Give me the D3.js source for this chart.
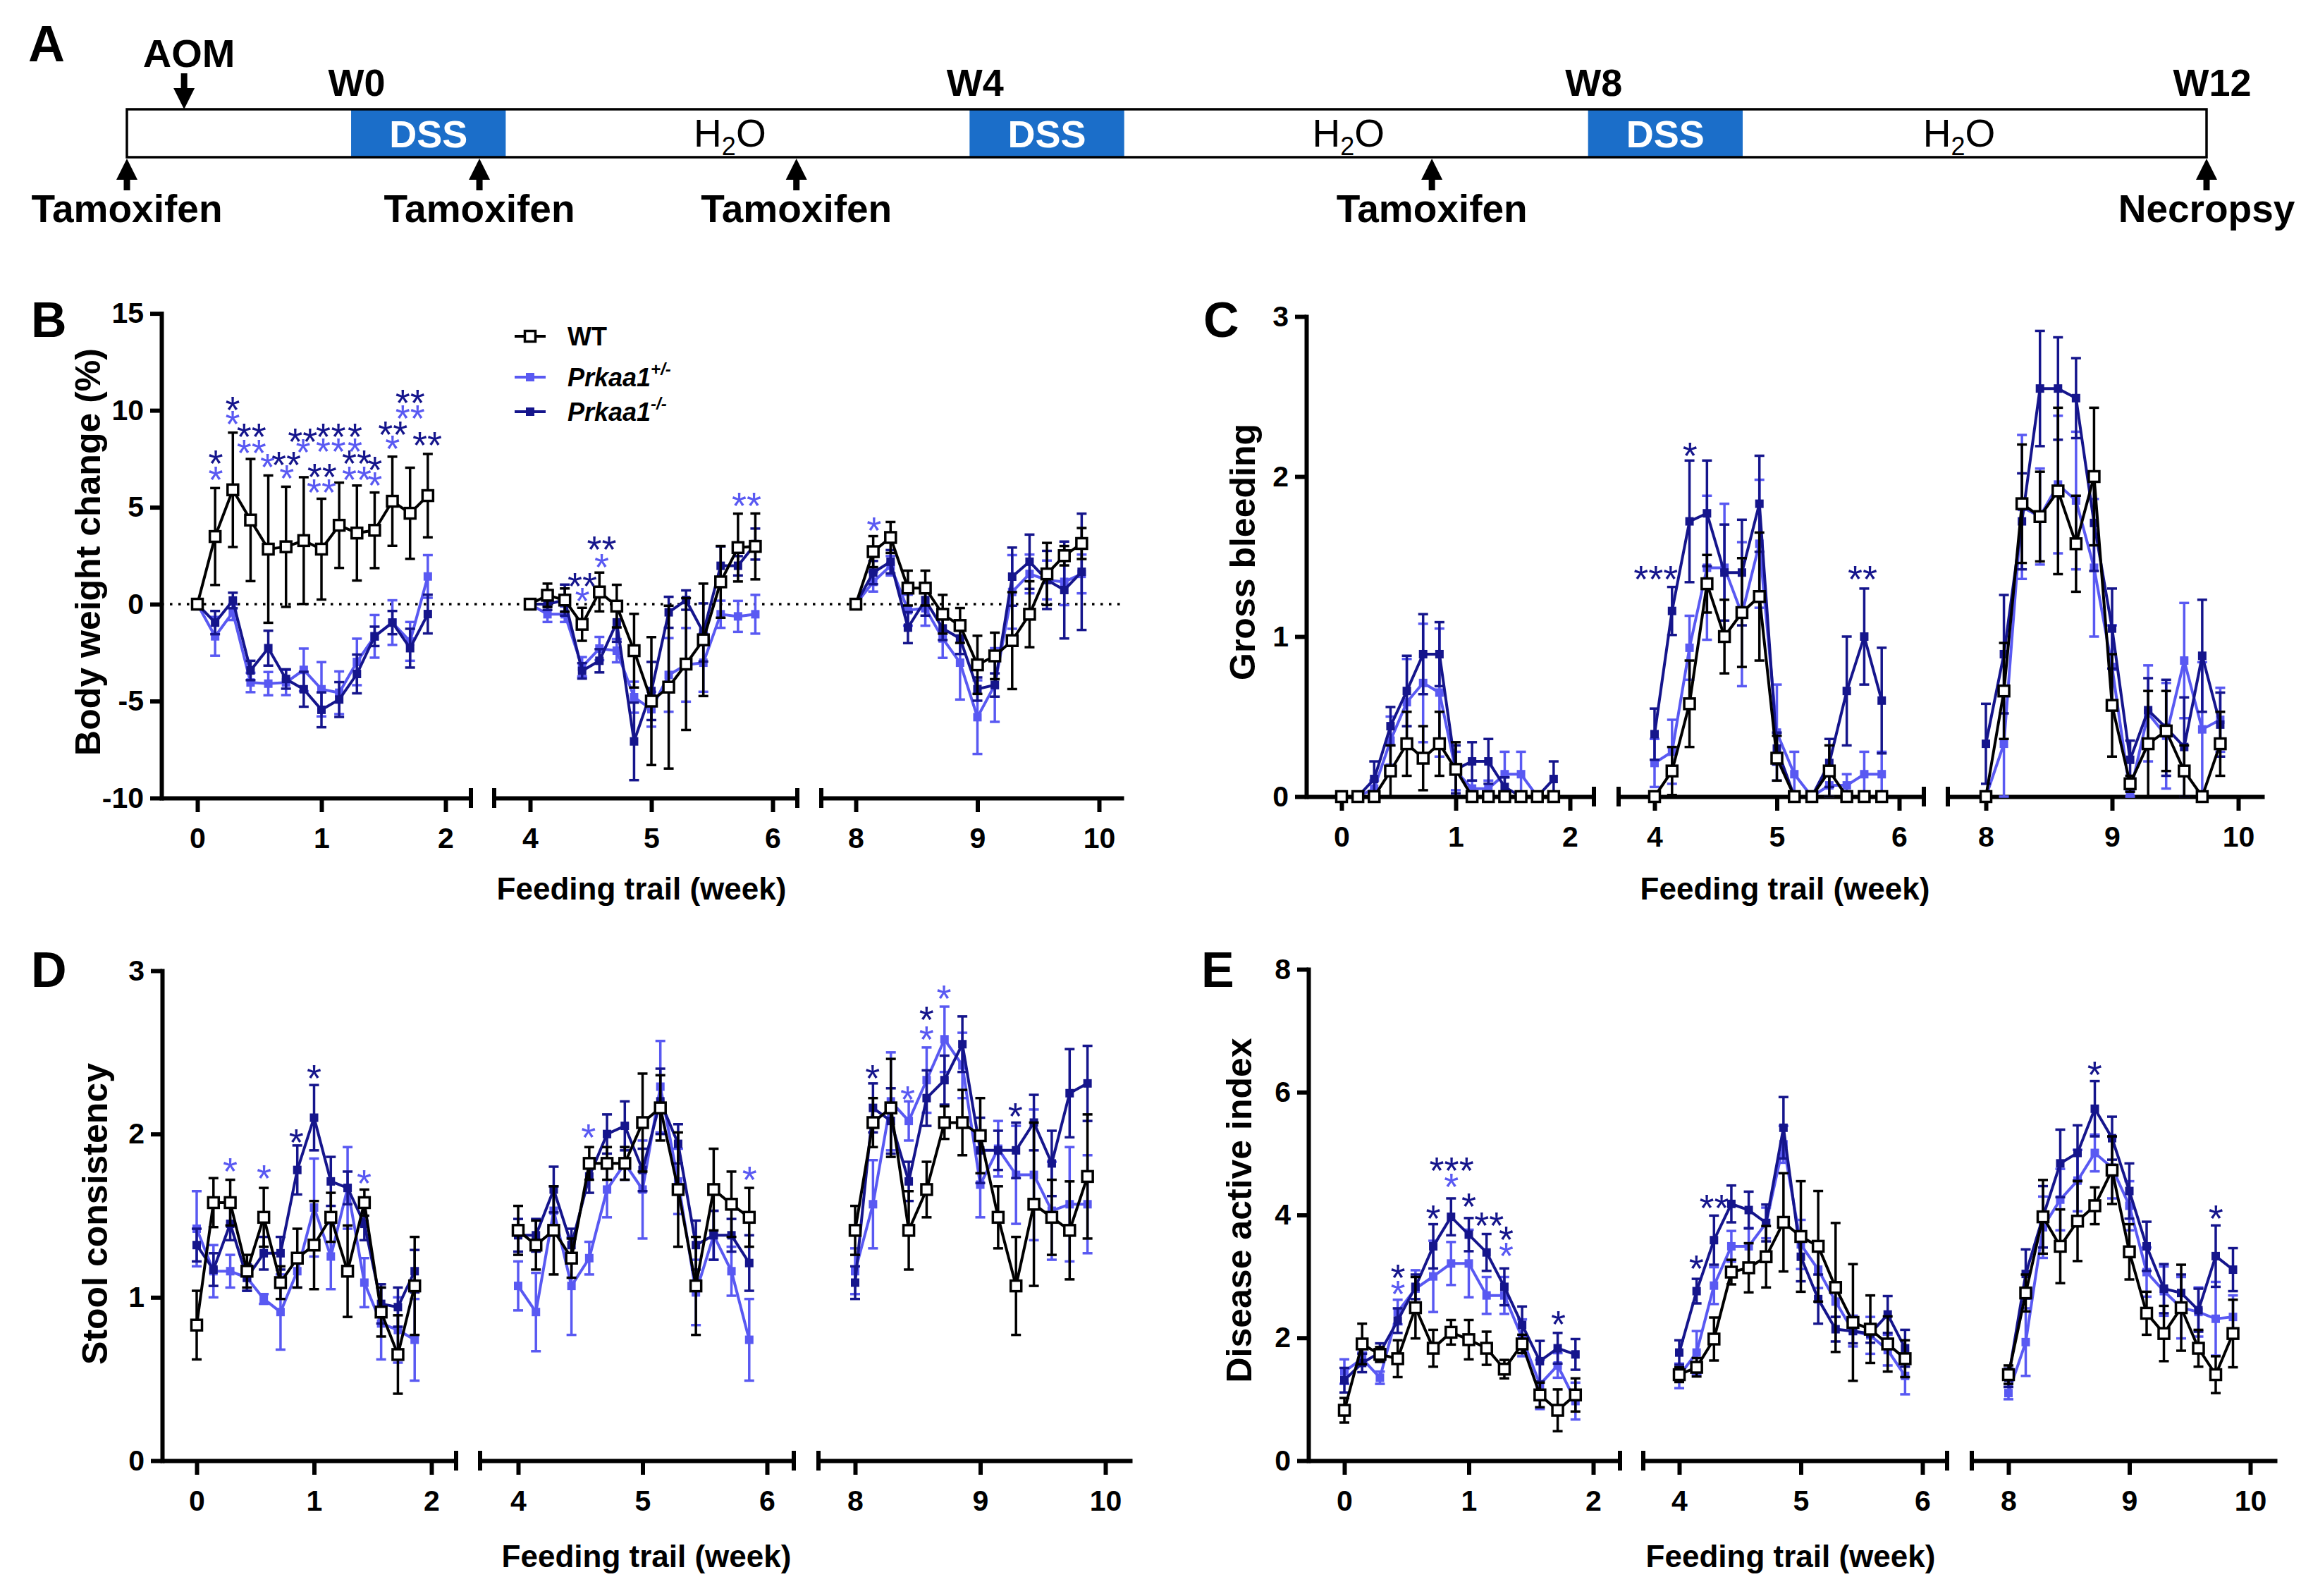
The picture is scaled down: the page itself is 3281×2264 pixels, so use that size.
<!DOCTYPE html>
<html><head><meta charset="utf-8">
<script src="https://cdn.jsdelivr.net/npm/d3@7"></script>
<style>
body{margin:0;background:#fff}
svg{display:block}
</style>
</head><body>
<svg id="fig" width="3281" height="2264"></svg>
<script>
// ---------------- DATA ----------------
const segStarts = [0, 4, 8];
const xTickLabels = [[0,1,2],[4,5,6],[8,9,10]];
const seriesNames = ["WT", "Prkaa1", "Prkaa1"];
const seriesSup = ["", "+/-", "-/-"];

// Timeline (panel A), in weeks
const dssWeeks = [0, 4, 8];
const h2oWeeks = [2.45, 6.45, 10.4];
const weekMarks = [0, 4, 8, 12];
const weekMarkLabels = ["W0", "W4", "W8", "W12"];
const tamoxifenWeeks = [-1.45, 0.83, 2.88, 6.99];
const aomWeek = -1.08;
const necropsyWeek = 12;

// Panel B: body weight change (%)
const bwWT = [0,3.49,5.9,4.34,2.84,2.96,3.28,2.84,4.07,3.67,3.81,5.31,4.69,5.6,
  0,0.46,0.21,-1.04,0.63,-0.1,-2.4,-5.0,-4.28,-3.09,-1.84,1.15,2.92,2.98,
  0,2.71,3.44,0.83,0.83,-0.52,-1.1,-3.13,-2.67,-1.88,-0.52,1.56,2.5,3.13];
const bwWTerr = [0,2.5,2.95,3.15,3.8,3.1,3.27,2.6,2.2,2.45,1.95,2.3,2.35,2.15,
  0,0.6,0.6,0.85,1.0,1.1,1.9,3.3,4.2,3.4,2.9,1.85,1.75,1.7,
  0,0.8,0.8,0.9,0.9,1.0,0.9,1.5,1.2,2.5,1.7,1.6,0.5,0.8];
const bwHet = [0,-1.66,-0.42,-4.04,-4.1,-4.04,-3.39,-4.39,-4.57,-2.98,-1.66,-0.95,-1.92,1.43,
  0,-0.52,-0.52,-3.23,-2.29,-2.4,-4.8,-5.42,-3.65,-3.13,-3.02,-0.52,-0.63,-0.52,
  0,1.15,1.98,-0.31,-0.21,-1.77,-3.02,-5.83,-4.17,0.63,1.56,1.25,1.15,1.56];
const bwHetErr = [0,1.0,0.4,0.5,0.6,0.65,1.1,1.4,1.1,1.2,1.1,1.15,1.0,1.1,
  0,0.4,0.4,0.5,0.6,0.6,0.8,0.9,1.9,1.9,1.5,0.7,0.8,1.0,
  0,0.5,0.5,0.8,0.9,1.0,1.9,1.9,1.9,1.9,1.0,1.0,1.2,1.0];
const bwKO = [0,-0.95,0.19,-3.42,-2.27,-3.86,-4.39,-5.45,-4.92,-3.6,-1.66,-0.95,-2.27,-0.51,
  0,0,0.21,-3.44,-2.92,-0.94,-7.08,-4.48,-0.42,0.21,-1.46,1.98,1.98,3.1,
  0,1.63,2.19,-1.21,0.21,-1.25,-1.77,-4.38,-4.17,1.42,2.19,1.25,0.73,1.67];
const bwKOerr = [0,0.6,0.4,0.5,0.9,0.5,0.9,0.9,0.9,1.0,0.5,0.6,1.0,1.0,
  0,0.3,0.8,0.4,0.6,1.0,2.0,1.5,0.8,0.5,1.5,1.0,0.5,0.8,
  0,0.6,0.6,0.8,0.8,0.6,0.8,0.6,0.6,1.5,1.4,1.5,2.5,3.0];
const bwStars = [[0.148,7.68,"ko","*"],[0.148,6.85,"het","*"],[0.284,10.43,"ko","*"],[0.284,9.70,"het","*"],
  [0.436,9.04,"ko","**"],[0.436,8.21,"het","**"],[0.565,7.48,"het","*"],[0.716,7.61,"ko","**"],[0.72,6.92,"het","*"],
  [0.848,8.82,"ko","**"],[0.853,8.25,"het","*"],[1.005,7.0,"ko","**"],[1.0,6.19,"het","**"],
  [1.014,9.04,"ko","*"],[1.014,8.31,"het","*"],[1.137,9.04,"ko","*"],[1.137,8.31,"het","*"],
  [1.27,9.04,"ko","*"],[1.27,8.31,"het","*"],[1.284,7.68,"ko","**"],[1.284,6.85,"het","**"],
  [1.431,7.36,"ko","*"],[1.431,6.55,"het","*"],[1.575,9.18,"ko","**"],[1.573,8.45,"het","*"],
  [1.715,10.79,"ko","**"],[1.715,10.0,"het","**"],[1.852,8.61,"ko","**"],
  [4.43,1.35,"ko","**"],[4.43,0.58,"het","*"],[4.59,3.23,"ko","**"],[4.59,2.33,"het","*"],[5.785,5.48,"het","**"],
  [8.15,4.23,"het","*"]];

// Panel C: gross bleeding
const gbWT = [0,0,0,0.16,0.33,0.24,0.33,0.17,0,0,0,0,0,0,
  0,0.16,0.58,1.33,1.0,1.15,1.25,0.24,0,0,0.16,0,0,0,
  0,0.66,1.83,1.75,1.91,1.58,2.0,0.57,0.08,0.33,0.41,0.16,0,0.33];
const gbWTerr = [0,0,0,0.16,0.2,0.2,0.2,0.17,0,0,0,0,0,0,
  0,0.15,0.27,0.18,0.23,0.34,0.4,0.14,0,0,0.16,0,0,0,
  0,0.3,0.37,0.28,0.52,0.3,0.43,0.32,0.05,0.33,0.25,0.16,0,0.2];
const gbHet = [0,0,0.05,0.35,0.59,0.71,0.65,0.16,0.05,0.05,0.14,0.14,0,0,
  0.21,0.28,0.93,1.43,1.43,1.14,1.58,0.4,0.14,0,0.07,0.07,0.14,0.14,
  0,0.33,1.81,1.75,1.95,1.85,1.43,0.81,0.02,0.52,0.38,0.85,0.42,0.48];
const gbHetErr = [0,0,0.05,0.15,0.27,0.37,0.4,0.12,0.05,0.05,0.14,0.14,0,0,
  0.15,0.2,0.2,0.45,0.4,0.45,0.4,0.3,0.14,0,0.07,0.07,0.14,0.14,
  0,0.33,0.45,0.3,0.43,0.43,0.43,0.26,0.02,0.3,0.33,0.36,0.42,0.2];
const gbKO = [0,0,0.11,0.44,0.66,0.89,0.89,0.17,0.22,0.22,0.06,0,0,0.11,
  0.39,1.16,1.72,1.77,1.4,1.4,1.83,0.3,0,0,0.21,0.66,1.0,0.6,
  0.33,0.89,1.72,2.55,2.55,2.49,1.71,1.05,0.23,0.54,0.43,0.31,0.88,0.45];
const gbKOerr = [0,0,0.11,0.12,0.22,0.25,0.2,0.15,0.12,0.14,0.06,0,0,0.11,
  0.16,0.15,0.38,0.33,0.3,0.33,0.3,0.1,0,0,0.15,0.34,0.3,0.33,
  0.25,0.37,0.3,0.36,0.32,0.25,0.3,0.25,0.12,0.2,0.3,0.31,0.35,0.2];
const gbStars = [[4.01,1.41,"ko","***"],[4.29,2.18,"ko","*"],[5.70,1.41,"ko","**"]];

// Panel D: stool consistency
const scWT = [0.83,1.58,1.58,1.16,1.49,1.09,1.24,1.32,1.49,1.16,1.58,0.91,0.65,1.07,
  1.41,1.32,1.41,1.24,1.82,1.82,1.82,2.07,2.16,1.66,1.07,1.66,1.57,1.49,
  1.41,2.07,2.16,1.41,1.66,2.07,2.07,1.99,1.49,1.07,1.57,1.49,1.41,1.74];
const scWTerr = [0.21,0.15,0.14,0.1,0.18,0.1,0.18,0.27,0.15,0.28,0.08,0.15,0.24,0.3,
  0.15,0.15,0.27,0.12,0.1,0.1,0.1,0.3,0.2,0.35,0.3,0.25,0.2,0.18,
  0.15,0.15,0.3,0.24,0.17,0.1,0.2,0.23,0.19,0.3,0.5,0.23,0.3,0.38];
const scHet = [1.42,1.16,1.16,1.12,0.99,0.91,1.16,1.55,1.25,1.67,1.09,0.84,0.8,0.74,
  1.07,0.91,1.53,1.07,1.24,1.66,1.82,1.66,2.29,1.71,1.03,1.38,1.16,0.74,
  1.16,1.57,2.2,2.08,2.33,2.58,2.42,1.69,1.91,1.75,1.75,1.53,1.57,1.57];
const scHetErr = [0.23,0.16,0.1,0.08,0.03,0.23,0.1,0.3,0.2,0.25,0.15,0.22,0.2,0.25,
  0.15,0.24,0.15,0.3,0.1,0.17,0.1,0.3,0.28,0.2,0.2,0.15,0.15,0.25,
  0.14,0.27,0.3,0.12,0.2,0.2,0.2,0.2,0.17,0.3,0.4,0.3,0.35,0.3];
const scKO = [1.32,1.17,1.45,1.12,1.27,1.27,1.78,2.1,1.71,1.67,1.45,0.96,0.94,1.16,
  1.38,1.38,1.66,1.32,1.74,2.0,2.05,1.78,2.2,1.94,1.32,1.38,1.38,1.21,
  1.09,2.16,2.08,1.71,2.22,2.33,2.55,1.9,1.9,1.9,2.07,1.82,2.25,2.31];
const scKOerr = [0.1,0.1,0.1,0.08,0.1,0.1,0.15,0.2,0.15,0.1,0.1,0.12,0.12,0.13,
  0.1,0.1,0.14,0.1,0.1,0.12,0.15,0.13,0.2,0.12,0.15,0.15,0.1,0.17,
  0.1,0.15,0.2,0.12,0.17,0.15,0.17,0.2,0.12,0.17,0.17,0.2,0.27,0.23];
const scStars = [[0.285,1.82,"het","*"],[0.574,1.78,"het","*"],[0.848,2.0,"ko","*"],[1.0,2.39,"ko","*"],
  [1.426,1.75,"het","*"],[4.565,2.03,"het","*"],[5.86,1.77,"het","*"],[8.14,2.39,"ko","*"],
  [8.42,2.26,"het","*"],[8.57,2.75,"ko","*"],[8.57,2.63,"het","*"],[8.71,2.88,"het","*"],[9.28,2.16,"ko","*"]];

// Panel E: disease active index
const daWT = [0.82,1.9,1.73,1.66,2.49,1.83,2.09,1.97,1.83,1.49,1.9,1.07,0.82,1.07,
  1.4,1.52,1.98,3.07,3.14,3.32,3.88,3.65,3.49,2.82,2.25,2.14,1.9,1.66,
  1.4,2.73,3.97,3.49,3.9,4.15,4.73,3.4,2.4,2.07,2.49,1.83,1.4,2.07];
const daWTerr = [0.2,0.33,0.12,0.3,0.5,0.3,0.2,0.32,0.27,0.15,0.15,0.2,0.34,0.27,
  0.12,0.15,0.35,0.2,0.4,0.5,0.8,0.9,0.9,1.05,0.95,0.55,0.45,0.3,
  0.15,0.3,0.6,0.6,0.65,0.3,0.55,0.45,0.35,0.45,0.7,0.3,0.3,0.55];
const daHet = [1.45,1.66,1.35,2.42,2.8,3.0,3.21,3.21,2.69,2.69,2.0,1.24,1.55,0.97,
  1.38,1.76,2.85,3.49,3.49,3.87,5.15,3.52,3.11,2.59,2.11,2.04,1.8,1.38,
  1.1,1.93,3.8,4.25,4.56,5.01,4.77,4.15,3.07,2.76,2.49,2.42,2.31,2.34];
const daHetErr = [0.2,0.1,0.1,0.2,0.3,0.58,0.35,0.55,0.3,0.3,0.3,0.4,0.2,0.3,
  0.2,0.35,0.3,0.25,0.3,0.25,0.3,0.4,0.3,0.25,0.25,0.3,0.25,0.3,
  0.1,0.55,0.5,0.5,0.5,0.3,0.5,0.4,0.4,0.4,0.5,0.4,0.6,0.35];
const daKO = [1.31,1.59,1.76,2.28,2.83,3.49,3.97,3.68,3.39,2.83,2.21,1.62,1.83,1.73,
  1.76,2.76,3.59,4.18,4.08,3.87,5.42,3.32,2.63,2.14,2.11,2.07,2.38,1.83,
  1.35,3.04,3.97,4.84,5.01,5.73,5.25,4.39,3.49,2.8,2.73,2.45,3.33,3.11];
const daKOerr = [0.2,0.15,0.15,0.2,0.2,0.36,0.3,0.27,0.3,0.3,0.3,0.33,0.25,0.25,
  0.2,0.2,0.4,0.3,0.3,0.3,0.5,0.4,0.4,0.2,0.2,0.15,0.3,0.3,
  0.15,0.4,0.5,0.55,0.45,0.45,0.35,0.45,0.4,0.4,0.3,0.35,0.5,0.35];
const daStars = [[0.43,3.11,"ko","*"],[0.43,2.85,"het","*"],[0.714,4.08,"ko","*"],[0.862,4.85,"ko","***"],
  [0.86,4.59,"het","*"],[1.0,4.27,"ko","*"],[1.163,3.96,"ko","**"],[1.3,3.73,"ko","*"],[1.3,3.47,"het","*"],
  [1.72,2.35,"ko","*"],[4.14,3.26,"ko","*"],[4.287,4.25,"ko","**"],[8.713,6.42,"ko","*"],[9.716,4.08,"ko","*"]];

const bwTicks = [-10,-5,0,5,10,15];
const gbTicks = [0,1,2,3];
const scTicks = [0,1,2,3];
const daTicks = [0,2,4,6,8];

// ---------------- STYLE / LAYOUT ----------------
const FONT = '"Liberation Sans", Arial, Helvetica, sans-serif';
const COL = {wt: "#000000", het: "#5959f2", ko: "#15158c"};
const DSS_BLUE = "#1b6ec9";
const svg = d3.select("#fig").style("font-family", FONT);
svg.append("rect").attr("width", 3281).attr("height", 2264).attr("fill", "#fff");

// ---------------- PANEL A ----------------
(function drawTimeline(){
  const g = svg.append("g");
  const tl = d3.scaleLinear().domain([-1.45, 12]).range([180, 3130]);
  const top = 155, bot = 223;
  g.append("text").text("A").attr("x", 40).attr("y", 87).attr("font-size", 72).attr("font-weight", "bold");
  dssWeeks.forEach(w => {
    g.append("rect").attr("x", tl(w)).attr("y", top).attr("width", tl(w + 1) - tl(w)).attr("height", bot - top).attr("fill", DSS_BLUE);
    g.append("text").text("DSS").attr("x", tl(w + 0.5)).attr("y", 209).attr("text-anchor", "middle")
      .attr("font-size", 54).attr("font-weight", "bold").attr("fill", "#fff");
  });
  g.append("rect").attr("x", tl(-1.45)).attr("y", top).attr("width", tl(12) - tl(-1.45)).attr("height", bot - top)
    .attr("fill", "none").attr("stroke", "#000").attr("stroke-width", 3.5);
  h2oWeeks.forEach(w => {
    const t = g.append("text").attr("x", tl(w)).attr("y", 208).attr("text-anchor", "middle").attr("font-size", 55);
    t.append("tspan").text("H");
    t.append("tspan").text("2").attr("font-size", 36).attr("dy", 12);
    t.append("tspan").text("O").attr("dy", -12);
  });
  weekMarks.forEach((w, i) => {
    g.append("text").text(weekMarkLabels[i]).attr("x", tl(w) + 8).attr("y", 136).attr("text-anchor", "middle")
      .attr("font-size", 54).attr("font-weight", "bold");
  });
  function arrow(x, y0, y1){ // tail y0 -> tip y1
    const dir = Math.sign(y1 - y0);
    g.append("line").attr("x1", x).attr("x2", x).attr("y1", y0).attr("y2", y1 - dir * 26)
      .attr("stroke", "#000").attr("stroke-width", 9);
    g.append("path").attr("d", `M${x - 15},${y1 - dir * 30}L${x + 15},${y1 - dir * 30}L${x},${y1}Z`).attr("fill", "#000");
  }
  arrow(tl(aomWeek), 104, 155);
  g.append("text").text("AOM").attr("x", tl(aomWeek) + 7).attr("y", 95).attr("text-anchor", "middle")
    .attr("font-size", 56).attr("font-weight", "bold");
  tamoxifenWeeks.forEach(w => {
    arrow(tl(w), 270, 225);
    g.append("text").text("Tamoxifen").attr("x", tl(w)).attr("y", 315).attr("text-anchor", "middle")
      .attr("font-size", 55).attr("font-weight", "bold");
  });
  arrow(tl(necropsyWeek), 270, 225);
  g.append("text").text("Necropsy").attr("x", tl(necropsyWeek)).attr("y", 315).attr("text-anchor", "middle")
    .attr("font-size", 55).attr("font-weight", "bold");
})();

// ---------------- PANELS B-E ----------------
const panels = [
  {letter: "B", lx: 44, ly: 478, axisX: 229, yPx: [1132, 444.6], yDom: [-10, 15], ticks: bwTicks,
   title: "Body weight change (%)", tx: 142, ty: 783, xtx: 910, xty: 1276,
   segs: [{p: [280, 632], ext: [229, 668]}, {p: [752, 1096], ext: [701, 1131]}, {p: [1214, 1559], ext: [1165, 1594]}],
   wt: bwWT, wtE: bwWTerr, het: bwHet, hetE: bwHetErr, ko: bwKO, koE: bwKOerr, stars: bwStars, zero: true, legend: true},
  {letter: "C", lx: 1707, ly: 478, axisX: 1853, yPx: [1130, 449], yDom: [0, 3], ticks: gbTicks,
   title: "Gross bleeding", tx: 1780, ty: 783, xtx: 2532, xty: 1276,
   segs: [{p: [1903, 2227], ext: [1853, 2261]}, {p: [2347, 2694], ext: [2296, 2729]}, {p: [2817, 3175], ext: [2763, 3212]}],
   wt: gbWT, wtE: gbWTerr, het: gbHet, hetE: gbHetErr, ko: gbKO, koE: gbKOerr, stars: gbStars},
  {letter: "D", lx: 44, ly: 1400, axisX: 230, yPx: [2072, 1377], yDom: [0, 3], ticks: scTicks,
   title: "Stool consistency", tx: 152, ty: 1722, xtx: 917, xty: 2223,
   segs: [{p: [279, 612], ext: [230, 647]}, {p: [735, 1088], ext: [681, 1126]}, {p: [1213, 1568], ext: [1161, 1606]}],
   wt: scWT, wtE: scWTerr, het: scHet, hetE: scHetErr, ko: scKO, koE: scKOerr, stars: scStars},
  {letter: "E", lx: 1704, ly: 1400, axisX: 1856, yPx: [2072, 1375], yDom: [0, 8], ticks: daTicks,
   title: "Disease active index", tx: 1775, ty: 1717, xtx: 2540, xty: 2223,
   segs: [{p: [1907, 2260], ext: [1856, 2298]}, {p: [2382, 2727], ext: [2331, 2762]}, {p: [2849, 3192], ext: [2797, 3230]}],
   wt: daWT, wtE: daWTerr, het: daHet, hetE: daHetErr, ko: daKO, koE: daKOerr, stars: daStars}
];

const AX_W = 6, LINE_W = 4, ERR_W = 3.5, CAP = 7;

function styleAxis(sel){
  sel.attr("font-family", FONT).attr("font-size", 41).attr("font-weight", "bold");
  sel.selectAll("path.domain").attr("stroke", "#000").attr("stroke-width", AX_W);
  sel.selectAll(".tick line").attr("stroke", "#000").attr("stroke-width", AX_W);
  sel.selectAll(".tick text").attr("fill", "#000");
}
const fmt = d => String(d); // plain hyphen-minus like the original

panels.forEach(P => {
  const g = svg.append("g");
  const y = d3.scaleLinear().domain(P.yDom).range(P.yPx);
  const yBase = P.yPx[0];
  const xs = P.segs.map((s, i) => {
    const t0 = segStarts[i];
    const base = d3.scaleLinear().domain([t0, t0 + 2]).range(s.p);
    return base.copy().domain([base.invert(s.ext[0]), base.invert(s.ext[1])]).range(s.ext);
  });

  // letter
  g.append("text").text(P.letter).attr("x", P.lx).attr("y", P.ly).attr("font-size", 70).attr("font-weight", "bold");

  // zero dotted line
  if (P.zero) {
    g.append("line").attr("x1", P.axisX).attr("x2", P.segs[2].ext[1]).attr("y1", y(0)).attr("y2", y(0))
      .attr("stroke", "#000").attr("stroke-width", 3.5).attr("stroke-dasharray", "3.5 8.5");
  }

  // y axis
  const ya = g.append("g").attr("transform", `translate(${P.axisX},0)`)
    .call(d3.axisLeft(y).tickValues(P.ticks).tickSize(16).tickSizeOuter(0).tickPadding(9).tickFormat(fmt));
  styleAxis(ya);
  ya.selectAll("path.domain").attr("stroke-linecap", "square");

  // x axes
  xs.forEach((x, i) => {
    const xa = g.append("g").attr("transform", `translate(0,${yBase})`)
      .call(d3.axisBottom(x).tickValues(xTickLabels[i]).tickSize(20).tickSizeOuter(0).tickPadding(22).tickFormat(fmt));
    styleAxis(xa);
    const [e0, e1] = x.range();
    if (i > 0) g.append("line").attr("x1", e0).attr("x2", e0).attr("y1", yBase - 14).attr("y2", yBase + 14).attr("stroke", "#000").attr("stroke-width", AX_W);
    if (i < 2) g.append("line").attr("x1", e1).attr("x2", e1).attr("y1", yBase - 14).attr("y2", yBase + 14).attr("stroke", "#000").attr("stroke-width", AX_W);
  });

  // titles
  g.append("text").text(P.title).attr("transform", `translate(${P.tx},${P.ty}) rotate(-90)`)
    .attr("text-anchor", "middle").attr("font-size", 50).attr("font-weight", "bold");
  g.append("text").text("Feeding trail (week)").attr("x", P.xtx).attr("y", P.xty)
    .attr("text-anchor", "middle").attr("font-size", 44).attr("font-weight", "bold");

  // data series
  const series = [
    {key: "het", v: P.het, e: P.hetE, color: COL.het, open: false},
    {key: "ko", v: P.ko, e: P.koE, color: COL.ko, open: false},
    {key: "wt", v: P.wt, e: P.wtE, color: COL.wt, open: true}
  ];
  series.forEach(S => {
    const sg = g.append("g");
    xs.forEach((x, si) => {
      const pts = d3.range(14).map(d => ({w: segStarts[si] + d / 7, v: S.v[si * 14 + d], e: S.e[si * 14 + d]}));
      // error bars
      pts.filter(p => p.e > 0).forEach(p => {
        const cx = x(p.w), y1 = y(p.v - p.e), y2 = y(p.v + p.e);
        sg.append("line").attr("x1", cx).attr("x2", cx).attr("y1", y1).attr("y2", y2).attr("stroke", S.color).attr("stroke-width", ERR_W);
        [y1, y2].forEach(yy => sg.append("line").attr("x1", cx - CAP).attr("x2", cx + CAP).attr("y1", yy).attr("y2", yy)
          .attr("stroke", S.color).attr("stroke-width", ERR_W));
      });
      sg.append("path").datum(pts).attr("d", d3.line().x(p => x(p.w)).y(p => y(p.v)))
        .attr("fill", "none").attr("stroke", S.color).attr("stroke-width", LINE_W).attr("stroke-linejoin", "miter");
      const sz = S.open ? 15 : 12;
      sg.selectAll(null).data(pts).join("rect")
        .attr("x", p => x(p.w) - sz / 2).attr("y", p => y(p.v) - sz / 2).attr("width", sz).attr("height", sz)
        .attr("fill", S.open ? "#fff" : S.color).attr("stroke", S.open ? "#000" : "none").attr("stroke-width", 3.5);
    });
  });

  // significance stars
  P.stars.forEach(([w, v, k, txt]) => {
    const si = w >= 8 ? 2 : (w >= 4 ? 1 : 0);
    g.append("text").text(txt).attr("x", xs[si](w)).attr("y", y(v) + 30).attr("text-anchor", "middle")
      .attr("font-size", 54).attr("fill", COL[k]);
  });

  // legend
  if (P.legend) {
    const rows = [{k: "wt", yy: 477}, {k: "het", yy: 535}, {k: "ko", yy: 584}];
    rows.forEach((r, i) => {
      g.append("line").attr("x1", 730).attr("x2", 774).attr("y1", r.yy).attr("y2", r.yy).attr("stroke", COL[r.k]).attr("stroke-width", LINE_W);
      const sz = r.k === "wt" ? 15 : 12;
      g.append("rect").attr("x", 752 - sz / 2).attr("y", r.yy - sz / 2).attr("width", sz).attr("height", sz)
        .attr("fill", r.k === "wt" ? "#fff" : COL[r.k]).attr("stroke", r.k === "wt" ? "#000" : "none").attr("stroke-width", 3.5);
      const t = g.append("text").attr("x", 805).attr("y", r.yy + 13).attr("font-size", 36).attr("font-weight", "bold");
      if (i === 0) t.text(seriesNames[0]);
      else {
        t.append("tspan").text(seriesNames[i]).attr("font-style", "italic");
        t.append("tspan").text(seriesSup[i]).attr("font-style", "italic").attr("font-size", 24).attr("dy", -16);
      }
    });
  }
});
</script>
</body></html>
